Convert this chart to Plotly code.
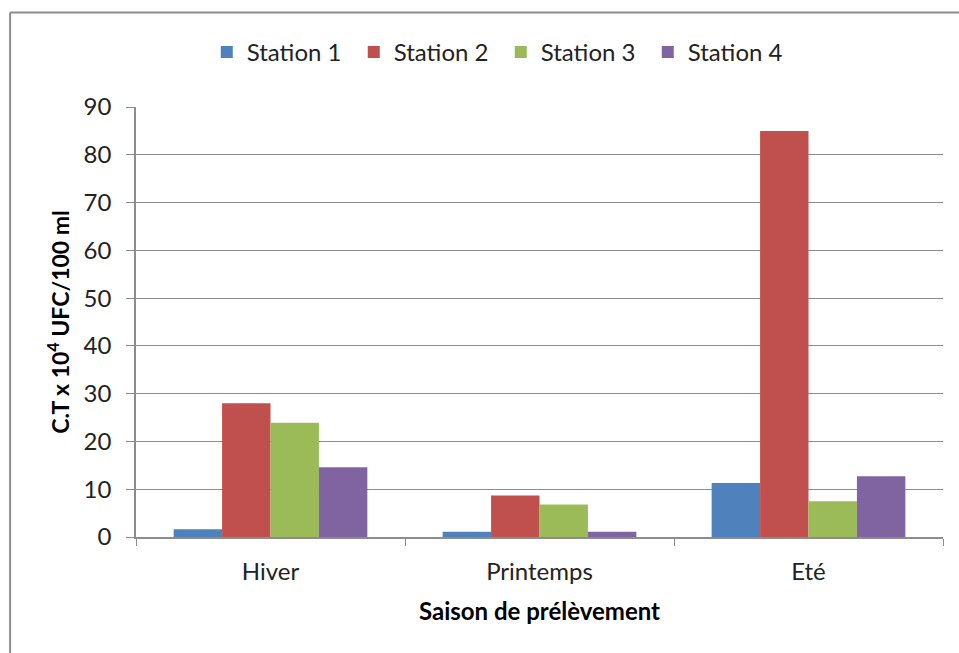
import plotly.graph_objects as go

seasons = ["Hiver", "Printemps", "Eté"]
stations = ["Station 1", "Station 2", "Station 3", "Station 4"]
values = {
    "Station 1": [1.6, 1.1, 11.3],
    "Station 2": [28.0, 8.7, 85.0],
    "Station 3": [23.9, 6.8, 7.5],
    "Station 4": [14.6, 1.1, 12.7],
}
colors = ["#4F81BD", "#C0504D", "#9BBB59", "#8064A2"]
y_ticks = [0, 10, 20, 30, 40, 50, 60, 70, 80, 90]

FONT = "Lato, 'Open Sans', sans-serif"
GRID = "#8c8c8c"

fig = go.Figure()
for name, col in zip(stations, colors):
    fig.add_trace(go.Bar(
        x=seasons, y=values[name], name=name,
        marker=dict(color=col, line=dict(width=0)),
    ))

fig.update_layout(
    width=959, height=653,
    margin=dict(l=136, r=16, t=107, b=116),
    paper_bgcolor="white", plot_bgcolor="white",
    barmode="group", bargap=0.28, bargroupgap=0,
    font=dict(family=FONT, color="#222", size=24),
    legend=dict(
        orientation="h", x=0.452, xanchor="center", y=1.127, yanchor="middle",
        font=dict(size=24, color="#222"), itemwidth=30, traceorder="normal",
        entrywidth=102, entrywidthmode="pixels",
        bgcolor="rgba(0,0,0,0)",
    ),
    xaxis=dict(
        type="category", showline=True, linecolor=GRID, linewidth=1.5,
        ticks="outside", tickson="boundaries", ticklen=7, tickcolor=GRID,
        tickfont=dict(size=24, color="#222"), ticklabelstandoff=12,
        title=dict(text="<b>Saison de prélèvement</b>", font=dict(size=24, color="#000"), standoff=20),
        showgrid=False,
    ),
    yaxis=dict(
        range=[0, 90], tickvals=y_ticks, showline=True, linecolor=GRID, linewidth=1.5,
        ticks="outside", ticklen=8, tickcolor=GRID,
        showgrid=True, gridcolor=GRID, gridwidth=1.2,
        zeroline=False,
        tickfont=dict(size=24, color="#222"), ticklabelstandoff=10,
        title=dict(text="<b>C.T x 10<sup>4</sup> UFC/100 ml</b>", font=dict(size=23, color="#000"), standoff=8),
    ),
    shapes=[
        dict(type="line", xref="paper", yref="paper", x0=-0.156, x1=-0.156, y0=1.22, y1=-0.4,
             line=dict(color=GRID, width=2)),
        dict(type="line", xref="paper", yref="paper", x0=-0.156, x1=1.2, y0=1.22, y1=1.22,
             line=dict(color=GRID, width=2)),
    ],
)

fig.write_html("out.html")
